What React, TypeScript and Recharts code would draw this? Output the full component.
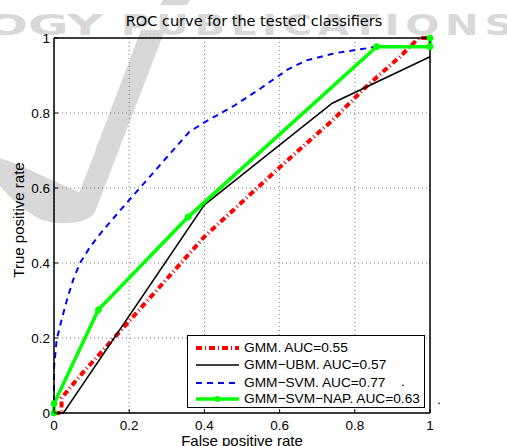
import React from "react";
import { LineChart, Line, XAxis, YAxis, CartesianGrid, Legend } from "recharts";

// axis ticks
const tickValues = [0, 0.2, 0.4, 0.6, 0.8, 1];
const tickLabels = ["0", "0.2", "0.4", "0.6", "0.8", "1"];

// GMM (red dash-dot)
const gmmFpr = [0, 0.02, 0.02, 0.07, 0.2, 0.4, 0.6, 0.74, 0.83, 0.92, 0.97, 1];
const gmmTpr = [0, 0, 0.04, 0.1, 0.245, 0.47, 0.655, 0.78, 0.87, 0.95, 1, 1];

// GMM-UBM (black)
const ubmFpr = [0, 0.025, 0.4, 0.74, 1];
const ubmTpr = [0, 0, 0.555, 0.826, 0.95];

// GMM-SVM (blue dashed)
const svmFpr = [0, 0, 0.007, 0.02, 0.034, 0.051, 0.069, 0.096, 0.131, 0.2, 0.247, 0.3, 0.36, 0.4, 0.48, 0.55, 0.62, 0.67, 0.75, 0.86, 1];
const svmTpr = [0, 0.12, 0.195, 0.248, 0.3, 0.355, 0.4, 0.443, 0.488, 0.568, 0.621, 0.682, 0.75, 0.775, 0.82, 0.866, 0.915, 0.94, 0.96, 0.977, 0.977];

// GMM-SVM-NAP (green with markers)
const napFpr = [0, 0, 0.118, 0.357, 0.858, 1, 1];
const napTpr = [0, 0.025, 0.275, 0.523, 0.977, 0.977, 1];

const seriesNames = ["GMM. AUC=0.55", "GMM\u2212UBM. AUC=0.57", "GMM\u2212SVM. AUC=0.77", "GMM\u2212SVM\u2212NAP. AUC=0.63"];

const toPoints = (xs: number[], ys: number[]) => xs.map((x, i) => ({ x, y: ys[i] }));

const gmmData = toPoints(gmmFpr, gmmTpr);
const ubmData = toPoints(ubmFpr, ubmTpr);
const svmData = toPoints(svmFpr, svmTpr);
const napData = toPoints(napFpr, napTpr);

const sans = "'Liberation Sans', Arial, Helvetica, sans-serif";
const tickFont = 13.5;

const labelFor = (v: number) => {
  const i = tickValues.indexOf(v);
  return i >= 0 ? tickLabels[i] : String(v);
};

const BottomTick = (props: any) => {
  const { x, y, payload } = props;
  return (
    <g>
      <line x1={x} x2={x} y1={y} y2={y - 4} stroke="#000" />
      <text x={x} y={y + 17} textAnchor="middle" fontFamily={sans} fontSize={tickFont} fill="#000">
        {labelFor(payload.value)}
      </text>
    </g>
  );
};

const LeftTick = (props: any) => {
  const { x, y, payload } = props;
  return (
    <g>
      <line x1={x} x2={x + 4} y1={y} y2={y} stroke="#000" />
      <text x={x - 4} y={y} dy="0.35em" textAnchor="end" fontFamily={sans} fontSize={tickFont} fill="#000">
        {labelFor(payload.value)}
      </text>
    </g>
  );
};

const TopTick = (props: any) => {
  const { x, y } = props;
  return <line x1={x} x2={x} y1={y} y2={y + 4} stroke="#000" />;
};

const RightTick = (props: any) => {
  const { x, y } = props;
  return <line x1={x} x2={x - 4} y1={y} y2={y} stroke="#000" />;
};

const legendSamples = [
  { stroke: "#ff0000", width: 4, dash: "6 3 1 3", marker: false },
  { stroke: "#000000", width: 1.5, dash: undefined, marker: false },
  { stroke: "#0000ff", width: 2, dash: "6 5", marker: false },
  { stroke: "#00ff00", width: 3.5, dash: undefined, marker: true },
];
const legendRowTops = [11.7, 29.3, 46.7, 63.3];

const renderLegend = () => (
  <div
    style={{
      position: "relative",
      width: 238,
      height: 73,
      boxSizing: "border-box",
      border: "1.5px solid #000",
      background: "#fff",
      fontFamily: sans,
      fontSize: 13.7,
    }}
  >
    {seriesNames.map((name, i) => (
      <div key={name} style={{ position: "absolute", left: 0, top: legendRowTops[i] - 9, height: 18, display: "flex", alignItems: "center" }}>
        <svg width={56} height={18} style={{ display: "block" }}>
          <line
            x1={8}
            x2={51}
            y1={9}
            y2={9}
            stroke={legendSamples[i].stroke}
            strokeWidth={legendSamples[i].width}
            strokeDasharray={legendSamples[i].dash}
          />
          {legendSamples[i].marker && <circle cx={29.5} cy={9} r={3} fill="#00ff00" />}
        </svg>
        <span style={{ whiteSpace: "nowrap", lineHeight: "18px" }}>{name}</span>
      </div>
    ))}
    <span style={{ position: "absolute", left: 213, top: legendRowTops[2] - 10, lineHeight: "18px" }}>.</span>
    <span style={{ position: "absolute", left: 249, top: legendRowTops[3] - 8, lineHeight: "18px" }}>.</span>
  </div>
);

const Watermark = () => (
  <svg width={507} height={446} style={{ position: "absolute", left: 0, top: 0 }}>
    <g fill="#d8d8d8">
      <text x={-14} y={35} fontFamily="'DejaVu Sans', sans-serif" fontWeight="bold" fontSize={28} textLength={117} lengthAdjust="spacingAndGlyphs">
        OGY
      </text>
      <text x={121} y={35} fontFamily="'DejaVu Sans', sans-serif" fontWeight="bold" fontSize={28} letterSpacing={4} textLength={398} lengthAdjust="spacingAndGlyphs">
        PUBLICATIONS
      </text>
      <polygon points="141,30 165,30 95,212 72,212" />
      <path d="M0,158 C30,168 60,185 88,196 L95,212 C88,224 62,226 42,220 C25,212 10,198 0,186 Z" />
      <polygon points="163,0 190,0 187,5 160,5" />
    </g>
    <text x={254} y={26} textAnchor="middle" fontFamily="'DejaVu Sans', sans-serif" fontSize={14.5} fill="#000">
      ROC curve for the tested classifiers
    </text>
    <text x={242} y={446} textAnchor="middle" fontFamily={sans} fontSize={15} fill="#000">
      False positive rate
    </text>
    <text x={24} y={220} textAnchor="middle" fontFamily={sans} fontSize={15} fill="#000" transform="rotate(-90 24 220)">
      True positive rate
    </text>
  </svg>
);

const axisLineStyle = { stroke: "#000", strokeWidth: 1.5 };

const RocChart = () => (
  <div style={{ position: "absolute", left: 0, top: 0, width: 507, height: 446, background: "#fff" }}>
    <Watermark />
    <div style={{ position: "absolute", left: 0, top: 0 }}>
      <LineChart width={507} height={446} margin={{ top: 37, right: 76, bottom: 32, left: 53 }}>
        <CartesianGrid strokeDasharray="1 3" stroke="#777" />
        <XAxis
          dataKey="x"
          type="number"
          domain={[0, 1]}
          ticks={tickValues}
          height={1}
          tickSize={0}
          tickMargin={0}
          interval={0}
          tick={BottomTick}
          axisLine={axisLineStyle}
          tickLine={false}
        />
        <XAxis
          xAxisId="top"
          orientation="top"
          dataKey="x"
          type="number"
          domain={[0, 1]}
          ticks={tickValues}
          height={1}
          tickSize={0}
          tickMargin={0}
          interval={0}
          tick={TopTick}
          axisLine={axisLineStyle}
          tickLine={false}
        />
        <YAxis
          type="number"
          domain={[0, 1]}
          ticks={tickValues}
          width={1}
          tickSize={0}
          tickMargin={0}
          interval={0}
          tick={LeftTick}
          axisLine={axisLineStyle}
          tickLine={false}
        />
        <YAxis
          yAxisId="right"
          orientation="right"
          type="number"
          domain={[0, 1]}
          ticks={tickValues}
          width={1}
          tickSize={0}
          tickMargin={0}
          interval={0}
          tick={RightTick}
          axisLine={axisLineStyle}
          tickLine={false}
        />
        <Line data={gmmData} dataKey="y" name={seriesNames[0]} type="linear" stroke="#ff0000" strokeWidth={4} strokeDasharray="6 3 1 3" dot={false} isAnimationActive={false} />
        <Line data={ubmData} dataKey="y" name={seriesNames[1]} type="linear" stroke="#000000" strokeWidth={1.5} dot={false} isAnimationActive={false} />
        <Line data={svmData} dataKey="y" name={seriesNames[2]} type="linear" stroke="#0000ff" strokeWidth={2} strokeDasharray="6 5" dot={false} isAnimationActive={false} />
        <Line
          data={napData}
          dataKey="y"
          name={seriesNames[3]}
          type="linear"
          stroke="#00ff00"
          strokeWidth={3.5}
          dot={{ r: 3, fill: "#00ff00", stroke: "#00ff00", strokeWidth: 1 }}
          isAnimationActive={false}
        />
        <Legend
          layout="vertical"
          align="center"
          verticalAlign="middle"
          content={renderLegend}
          wrapperStyle={{ left: 187, top: 335, width: 238 }}
        />
      </LineChart>
    </div>
  </div>
);

export default function App() {
  return <RocChart />;
}
